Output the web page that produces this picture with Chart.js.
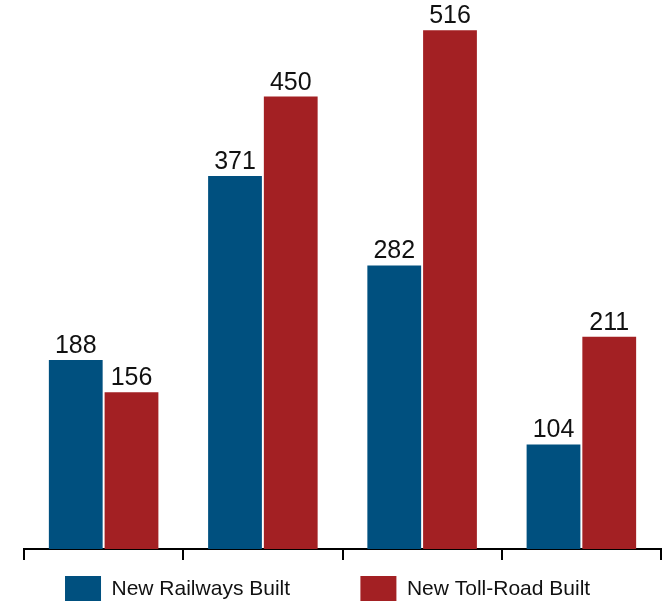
<!DOCTYPE html>
<html>
<head>
<meta charset="utf-8">
<script src="https://cdn.jsdelivr.net/npm/chart.js@4"></script>
<style>
  html, body { margin: 0; padding: 0; background: #fff; overflow: hidden; }
  #wrap { position: relative; width: 662px; height: 613px; }
</style>
</head>
<body>
<div id="wrap"><canvas id="c"></canvas></div>
<script>
const categories = ['A', 'B', 'C', 'D'];
const railways = [188, 371, 282, 104];
const tollRoads = [156, 450, 516, 211];
const seriesNames = ['New Railways Built', 'New Toll-Road Built'];

const valueLabels = {
  id: 'valueLabels',
  afterDatasetsDraw(chart) {
    const ctx = chart.ctx;
    ctx.save();
    ctx.font = '25px "Liberation Sans", Arial, sans-serif';
    ctx.fillStyle = '#111';
    ctx.textAlign = 'center';
    ctx.textBaseline = 'alphabetic';
    chart.data.datasets.forEach((ds, i) => {
      chart.getDatasetMeta(i).data.forEach((bar, j) => {
        ctx.fillText(String(ds.data[j]), bar.x, bar.y - 7);
      });
    });
    ctx.restore();
  }
};

new Chart(document.getElementById('c'), {
  type: 'bar',
  data: {
    labels: categories,
    datasets: [
      { label: seriesNames[0], data: railways, backgroundColor: '#00507f', categoryPercentage: 0.7, barPercentage: 0.965 },
      { label: seriesNames[1], data: tollRoads, backgroundColor: '#a32023', categoryPercentage: 0.7, barPercentage: 0.965 }
    ]
  },
  options: {
    responsive: true,
    maintainAspectRatio: false,
    animation: false,
    layout: { padding: { top: 0, left: 0, right: 1, bottom: 0 } },
    scales: {
      x: {
        ticks: { display: false },
        grid: { display: true, drawOnChartArea: false, drawTicks: true, tickLength: 11, color: '#000', lineWidth: 2 },
        border: { display: true, color: '#000', width: 2 },
        afterFit(scale) { scale.height = 15; }
      },
      y: {
        min: 0,
        max: 546,
        ticks: { display: false },
        grid: { display: false },
        border: { display: false },
        afterFit(scale) { scale.width = 24; }
      }
    },
    plugins: {
      tooltip: { enabled: false },
      legend: {
        position: 'bottom',
        labels: {
          boxWidth: 36,
          boxHeight: 27,
          padding: 12,
          color: '#111',
          font: { family: '"Liberation Sans", Arial, sans-serif', size: 21 },
          generateLabels(chart) {
            const items = Chart.defaults.plugins.legend.labels.generateLabels(chart);
            items.forEach((it, i) => {
              it.lineWidth = 0;
              it.strokeStyle = 'rgba(0,0,0,0)';
              if (i === 0) it.text = it.text + '\u0020'.repeat(10);
              if (i === 1) it.text = it.text + '\u0020';
            });
            return items;
          }
        }
      }
    }
  },
  plugins: [valueLabels]
});
</script>
</body>
</html>
